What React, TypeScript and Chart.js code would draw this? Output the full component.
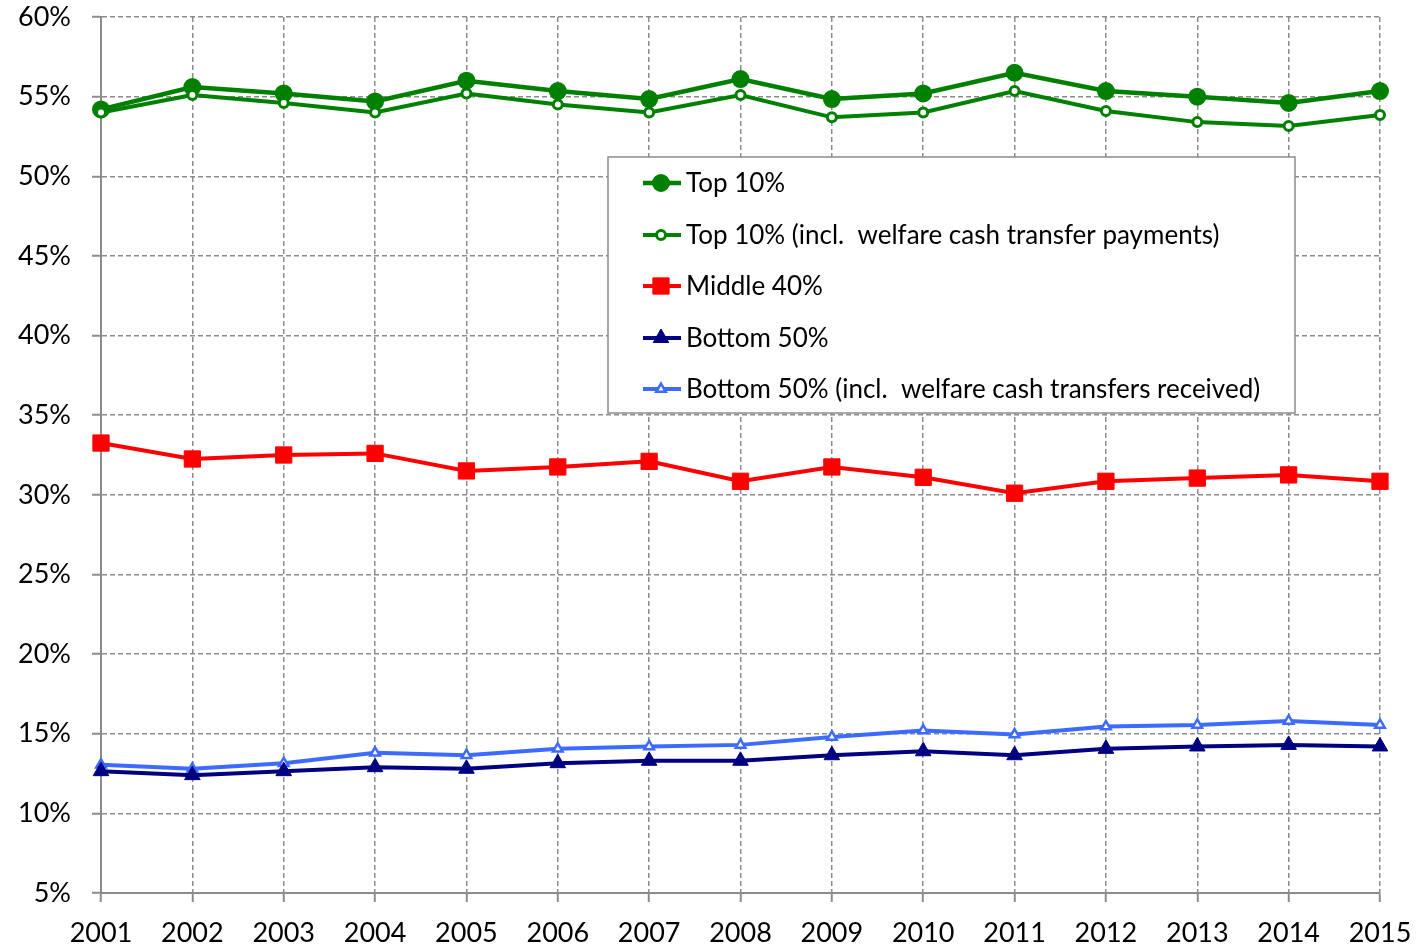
import React, { useEffect, useRef } from "react";
import { Chart, registerables } from "chart.js";

Chart.register(...registerables);

const years = ["2001","2002","2003","2004","2005","2006","2007","2008","2009","2010","2011","2012","2013","2014","2015"];
const top10 = [54.2, 55.6, 55.2, 54.7, 56.0, 55.35, 54.85, 56.1, 54.85, 55.2, 56.5, 55.35, 55.0, 54.6, 55.35];
const top10Welfare = [54.0, 55.1, 54.6, 54.0, 55.2, 54.5, 54.0, 55.1, 53.7, 54.0, 55.35, 54.1, 53.4, 53.15, 53.85];
const middle40 = [33.25, 32.25, 32.5, 32.6, 31.5, 31.75, 32.1, 30.85, 31.75, 31.1, 30.1, 30.85, 31.05, 31.25, 30.85];
const bottom50 = [12.65, 12.4, 12.65, 12.9, 12.8, 13.15, 13.3, 13.3, 13.65, 13.9, 13.65, 14.05, 14.2, 14.3, 14.2];
const bottom50Welfare = [13.05, 12.8, 13.15, 13.8, 13.65, 14.05, 14.2, 14.3, 14.8, 15.2, 14.95, 15.45, 15.55, 15.8, 15.55];

const labels = [
  "Top 10%",
  "Top 10% (incl.  welfare cash transfer payments)",
  "Middle 40%",
  "Bottom 50%",
  "Bottom 50% (incl.  welfare cash transfers received)",
];

const GREEN = "#008000";
const RED = "#FF0000";
const NAVY = "#000080";
const LIGHTBLUE = "#3D6BFF";
const GRID = "#8C8C8C";
const FONT = "Lato, 'Open Sans', sans-serif";

type Marker = { style: "circle" | "rect" | "triangle"; r: number; fill: string; stroke: string; bw: number; color: string; lw: number };
const markers: Marker[] = [
  { style: "circle", r: 8, fill: GREEN, stroke: GREEN, bw: 2, color: GREEN, lw: 4.5 },
  { style: "circle", r: 4.5, fill: "#FFFFFF", stroke: GREEN, bw: 3, color: GREEN, lw: 4 },
  { style: "rect", r: 11.5, fill: RED, stroke: RED, bw: 1, color: RED, lw: 4 },
  { style: "triangle", r: 9, fill: NAVY, stroke: NAVY, bw: 1, color: NAVY, lw: 4 },
  { style: "triangle", r: 5.5, fill: "#FFFFFF", stroke: LIGHTBLUE, bw: 2.5, color: LIGHTBLUE, lw: 4 },
];

function drawMarker(ctx: CanvasRenderingContext2D, m: Marker, x: number, y: number) {
  ctx.save();
  ctx.fillStyle = m.fill;
  ctx.strokeStyle = m.stroke;
  ctx.lineWidth = m.bw;
  ctx.setLineDash([]);
  ctx.beginPath();
  if (m.style === "circle") {
    ctx.arc(x, y, m.r, 0, Math.PI * 2);
  } else if (m.style === "rect") {
    const s = Math.SQRT1_2 * m.r;
    ctx.rect(x - s, y - s, 2 * s, 2 * s);
  } else {
    const r = m.r;
    const a = -Math.PI / 2;
    ctx.moveTo(x + Math.cos(a) * r, y + Math.sin(a) * r);
    ctx.lineTo(x + Math.cos(a + (2 * Math.PI) / 3) * r, y + Math.sin(a + (2 * Math.PI) / 3) * r);
    ctx.lineTo(x + Math.cos(a + (4 * Math.PI) / 3) * r, y + Math.sin(a + (4 * Math.PI) / 3) * r);
    ctx.closePath();
  }
  ctx.fill();
  ctx.stroke();
  ctx.restore();
}

const legendPlugin = {
  id: "boxLegend",
  afterDraw(chart: any) {
    const ctx: CanvasRenderingContext2D = chart.ctx;
    const x0 = 608, y0 = 157, w = 687, h = 256;
    ctx.save();
    ctx.fillStyle = "#FFFFFF";
    ctx.fillRect(x0, y0, w, h);
    ctx.strokeStyle = "#8C8C8C";
    ctx.lineWidth = 1.5;
    ctx.strokeRect(x0, y0, w, h);
    const rows = [183, 235, 286, 338, 389];
    ctx.font = `26px ${FONT}`;
    ctx.textBaseline = "middle";
    ctx.textAlign = "left";
    rows.forEach((ry, i) => {
      const m = markers[i];
      ctx.strokeStyle = m.color;
      ctx.lineWidth = m.lw;
      ctx.beginPath();
      ctx.moveTo(643, ry);
      ctx.lineTo(681, ry);
      ctx.stroke();
      drawMarker(ctx, m, 661, ry);
      ctx.fillStyle = "#000000";
      ctx.fillText(labels[i], 686, ry + 1);
    });
    ctx.restore();
  },
};

export default function App() {
  const ref = useRef<HTMLCanvasElement | null>(null);
  useEffect(() => {
    if (!ref.current) return;
    const series = [top10, top10Welfare, middle40, bottom50, bottom50Welfare];
    const chart = new Chart(ref.current, {
      type: "line",
      data: {
        labels: years,
        datasets: series.map((d, i) => {
          const m = markers[i];
          return {
            label: labels[i],
            data: d,
            borderColor: m.color,
            borderWidth: m.lw,
            backgroundColor: m.fill,
            pointStyle: m.style,
            pointRadius: m.r,
            pointBackgroundColor: m.fill,
            pointBorderColor: m.stroke,
            pointBorderWidth: m.bw,
            tension: 0,
            fill: false,
            clip: false,
            order: i === 0 ? 1 : i === 1 ? 0 : i,
          };
        }),
      },
      options: {
        responsive: false,
        animation: false,
        events: [],
        layout: { padding: { top: 17, right: 37, left: 0, bottom: 0 } },
        plugins: {
          legend: { display: false },
          tooltip: { enabled: false },
          title: { display: false },
        },
        scales: {
          x: {
            type: "category",
            offset: false,
            grid: {
              color: GRID,
              lineWidth: 1.5,
              tickLength: 9,
              tickColor: GRID,
              tickWidth: 2,
              tickBorderDash: [],
            },
            border: { display: true, color: GRID, width: 2, dash: [5, 3] },
            ticks: {
              color: "#000000",
              font: { family: FONT, size: 27 },
              padding: 15,
              maxRotation: 0,
              autoSkip: false,
            },
            afterFit: (scale: any) => {
              scale.height = 57;
              scale.paddingLeft = 0;
              scale.paddingRight = 0;
            },
          },
          y: {
            type: "linear",
            min: 5,
            max: 60,
            grid: {
              color: GRID,
              lineWidth: 1.5,
              tickLength: 9,
              tickColor: GRID,
              tickWidth: 2,
              tickBorderDash: [],
            },
            border: { display: true, color: GRID, width: 2, dash: [5, 3] },
            ticks: {
              stepSize: 5,
              color: "#000000",
              font: { family: FONT, size: 27 },
              padding: 21,
              callback: (v: any) => `${v}%`,
            },
            afterFit: (scale: any) => {
              scale.width = 101;
              scale.paddingTop = 0;
              scale.paddingBottom = 0;
            },
          },
        },
      },
      plugins: [legendPlugin],
    } as any);
    return () => chart.destroy();
  }, []);
  return (
    <div style={{ position: "absolute", left: 0, top: 0, width: 1417, height: 950, background: "#FFFFFF" }}>
      <canvas ref={ref} width={1417} height={950} style={{ width: 1417, height: 950, display: "block" }} />
    </div>
  );
}
